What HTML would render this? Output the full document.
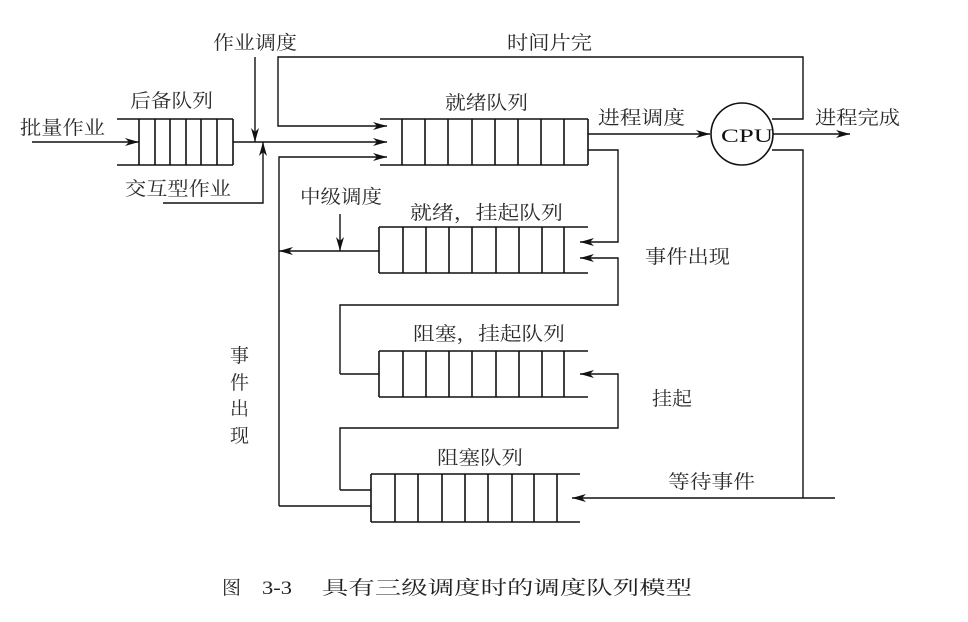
<!DOCTYPE html>
<html><head><meta charset="utf-8"><style>
html,body{margin:0;padding:0;background:#fff;}
svg{display:block;}
text{font-family:"Liberation Serif","Noto Serif CJK SC","Noto Sans CJK SC",serif;fill:#2a2a2a;font-size:19px;}
</style></head><body>
<svg width="968" height="622" viewBox="0 0 968 622" xmlns="http://www.w3.org/2000/svg">
<defs>
<marker id="a" viewBox="0 0 14 8" refX="14" refY="4" markerWidth="14" markerHeight="8" markerUnits="userSpaceOnUse" orient="auto">
<path d="M0,0 L14,4 L0,8 L4,4 Z" fill="#111"/></marker>
</defs>
<g stroke="#111" stroke-width="1.6" fill="none">
<path d="M117,119 H233 M117,165 H233 M233,119 V165"/>
<path d="M139,119V165 M155,119V165 M170,119V165 M186,119V165 M201,119V165 M217,119V165"/>
<path d="M380,119 H588 M380,165 H588"/>
<path d="M402,119V165 M425,119V165 M448,119V165 M472,119V165 M495,119V165 M518,119V165 M541,119V165 M564,119V165 M588,119V165"/>
<path d="M379,227 H588 M379,273 H588 M379,227 V273"/>
<path d="M403,227V273 M426,227V273 M449,227V273 M472,227V273 M496,227V273 M519,227V273 M542,227V273 M564,227V273"/>
<path d="M379,351 H588 M379,397 H588 M379,351 V397"/>
<path d="M403,351V397 M426,351V397 M449,351V397 M472,351V397 M496,351V397 M519,351V397 M542,351V397 M564,351V397"/>
<path d="M371,474 H580 M371,522 H580 M371,474 V522"/>
<path d="M395,474V522 M418,474V522 M442,474V522 M465,474V522 M488,474V522 M512,474V522 M534,474V522 M557,474V522"/>
<circle cx="742" cy="134" r="31"/>
</g>
<g stroke="#111" stroke-width="1.4" fill="none">
<path d="M32,142 H139" marker-end="url(#a)"/>
<path d="M233,142 H387" marker-end="url(#a)"/>
<path d="M255,57 V142" marker-end="url(#a)"/>
<path d="M163,203 H263 V142" marker-end="url(#a)"/>
<path d="M772,119 H803 V57 H278 V126 H387" marker-end="url(#a)"/>
<path d="M279,506 H371 M279,506 V157 H387" marker-end="url(#a)"/>
<path d="M588,134 H710" marker-end="url(#a)"/>
<path d="M773,134 H850" marker-end="url(#a)"/>
<path d="M772,150 H803 V498"/>
<path d="M835,498 H572" marker-end="url(#a)"/>
<path d="M588,150 H618 V242 H580" marker-end="url(#a)"/>
<path d="M340,374 H379 M340,374 V305 H618 V258 H580" marker-end="url(#a)"/>
<path d="M340,490 H371 M340,490 V428 H618 V374 H580" marker-end="url(#a)"/>
<path d="M379,251 H279" marker-end="url(#a)"/>
<path d="M340,214 V251" marker-end="url(#a)"/>
</g>
<text x="20" y="134" textLength="85" lengthAdjust="spacingAndGlyphs">批量作业</text>
<text x="130" y="107" textLength="83" lengthAdjust="spacingAndGlyphs">后备队列</text>
<text x="213" y="49" textLength="84" lengthAdjust="spacingAndGlyphs">作业调度</text>
<text x="125" y="195" textLength="106" lengthAdjust="spacingAndGlyphs">交互型作业</text>
<text x="507" y="49" textLength="85" lengthAdjust="spacingAndGlyphs">时间片完</text>
<text x="445" y="109" textLength="83" lengthAdjust="spacingAndGlyphs">就绪队列</text>
<text x="598" y="124" textLength="87" lengthAdjust="spacingAndGlyphs">进程调度</text>
<text x="815" y="124" textLength="85" lengthAdjust="spacingAndGlyphs">进程完成</text>
<text x="721" y="142" font-size="20" textLength="52" lengthAdjust="spacingAndGlyphs" style="fill:#111">CPU</text>
<text x="300" y="203" textLength="82" lengthAdjust="spacingAndGlyphs">中级调度</text>
<text x="410" y="219" textLength="153" lengthAdjust="spacingAndGlyphs">就绪，挂起队列</text>
<text x="645" y="263" textLength="85" lengthAdjust="spacingAndGlyphs">事件出现</text>
<text x="413" y="340" textLength="152" lengthAdjust="spacingAndGlyphs">阻塞，挂起队列</text>
<text x="652" y="405" textLength="40" lengthAdjust="spacingAndGlyphs">挂起</text>
<text x="437" y="464" textLength="86" lengthAdjust="spacingAndGlyphs">阻塞队列</text>
<text x="668" y="488" textLength="87" lengthAdjust="spacingAndGlyphs">等待事件</text>
<text x="230" y="362">事</text>
<text x="230" y="389">件</text>
<text x="230" y="415">出</text>
<text x="230" y="442">现</text>
<text x="222" y="594" font-size="23" style="fill:#222">图</text>
<text x="262" y="594" font-size="23" textLength="30" lengthAdjust="spacingAndGlyphs" style="fill:#222">3-3</text>
<text x="322" y="594" font-size="23" textLength="370" lengthAdjust="spacingAndGlyphs" style="fill:#222">具有三级调度时的调度队列模型</text>
</svg>
</body></html>
